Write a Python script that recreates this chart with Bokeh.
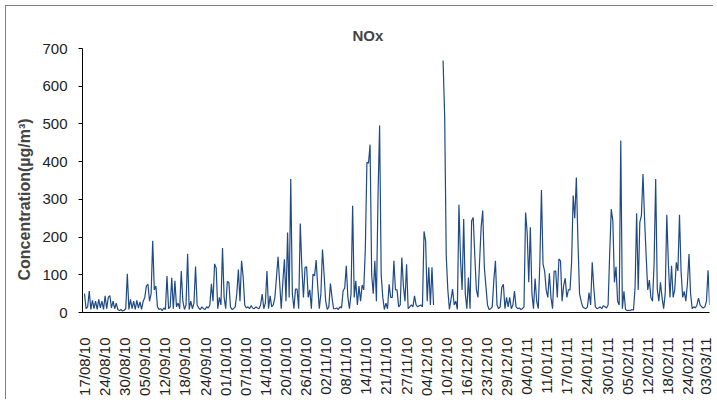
import math
from bokeh.plotting import figure
from bokeh.models import FixedTicker, Range1d, Title
from bokeh.embed import file_html
from bokeh.resources import INLINE

# Category labels shown on the x axis (every 152 hourly records)
date_labels = ["17/08/10", "24/08/10", "30/08/10", "05/09/10", "12/09/10", "18/09/10",
               "24/09/10", "01/10/10", "07/10/10", "14/10/10", "20/10/10", "26/10/10",
               "02/11/10", "08/11/10", "14/11/10", "21/11/10", "27/11/10", "04/12/10",
               "10/12/10", "16/12/10", "23/12/10", "29/12/10", "04/01/11", "11/01/11",
               "17/01/11", "24/01/11", "30/01/11", "05/02/11", "12/02/11", "18/02/11",
               "24/02/11", "03/03/11"]
label_every_hours = 152
sample_every_hours = 12

nan = float("nan")
# NOx concentration (ug/m3), every half day
nox = [
    50, 10, 15, 57, 8, 32, 10, 30, 8, 35, 12, 30, 8, 44, 10, 40, 45, 12, 30, 10,        # d0-9
    25, 8, 5, 8, 4, 6, 10, 103, 8, 35, 10, 30, 8, 32, 12, 28, 8, 30, 40, 70,            # d10-19
    75, 30, 50, 190, 60, 70, 15, 8, 10, 5, 12, 8, 97, 10, 15, 92, 10, 84, 15, 25,       # d20-29
    10, 110, 30, 8, 20, 156, 8, 30, 10, 25, 122, 20, 12, 8, 15, 10, 8, 15, 12, 20,      # d30-39
    76, 30, 129, 118, 10, 40, 20, 171, 40, 10, 82, 80, 15, 8, 10, 15, 50, 114, 30, 137, # d40-49
    95, 20, 12, 15, 10, 18, 12, 10, 15, 12, 10, 20, 49, 10, 25, 110, 10, 44, 15, 20,    # d50-59
    40, 93, 148, 80, 10, 80, 141, 30, 212, 40, 354, 50, 10, 62, 62, 10, 236, 120, 40, 120,  # d60-69
    121, 40, 60, 10, 102, 97, 139, 70, 10, 50, 167, 102, 30, 8, 15, 77, 40, 10, 10, 12,     # d70-79
    8, 15, 12, 57, 65, 124, 40, 10, 50, 283, 40, 84, 20, 70, 30, 73, 60, 168, 398, 396,     # d80-89
    445, 100, 50, 137, 30, 310, 496, 100, 40, 8, 25, 10, 75, 40, 40, 137, 60, 60, 15, 20,   # d90-99
    146, 70, 30, 128, 10, 15, 20, 15, 44, 20, 15, 18, 20, 15, 215, 190, 30, 120, 20, 120,   # d100-109
    20, nan, nan, nan, nan, nan, 668, 522, 150, 60, 8, 35, 62, 20, 30, 8, 286, 142, 60, 248,   # d110-119
    50, 10, 93, 10, 243, 252, 150, 60, 40, 133, 227, 270, 120, 70, 20, 8, 10, 15, 86, 137,     # d120-129
    20, 10, 15, 66, 75, 10, 40, 15, 40, 10, 20, 57, 15, 10, 12, 8, 10, 15, 265, 212,           # d130-139
    80, 226, 50, 10, 90, 30, 10, 133, 325, 128, 110, 60, 40, 104, 40, 10, 110, 110, 40, 142,   # d140-149
    137, 30, 71, 91, 40, 60, 60, 133, 310, 250, 358, 190, 50, 30, 15, 12, 10, 15, 53, 20,      # d150-159
    133, 66, 15, 10, 12, 15, 10, 18, 15, 12, 20, 155, 274, 243, 80, 121, 30, 20, 456, 10,      # d160-169
    56, 8, 5, 6, 5, 8, 6, 66, 263, 60, 239, 257, 367, 248, 150, 60, 86, 40, 30, 130,           # d170-179
    354, 62, 30, 80, 40, 10, 50, 259, 130, 40, 124, 40, 60, 133, 110, 259, 110, 40, 56, 30,    # d180-189
    77, 155, 50, 10, 15, 12, 20, 38, 20, 15, 12, 15, 30, 112, 20,                              # d190-197
]
y_ticks = [0, 100, 200, 300, 400, 500, 600, 700]

hours = [i * sample_every_hours for i in range(len(nox))]
tick_pos = [i * label_every_hours for i in range(len(date_labels))]

FONT = "Liberation Sans"

# figure origin sits at page (6, 6) because of the css margin + border
p = figure(width=708, height=394, output_backend="svg", toolbar_location=None,
           x_range=Range1d(-15, 4727), y_range=Range1d(0, 700),
           min_border_left=76, min_border_right=5, min_border_top=42, min_border_bottom=88)
p.styles = {"margin-left": "5px", "margin-top": "5px",
            "border-left": "1px solid #808080", "border-top": "1px solid #808080"}

p.line(hours, nox, line_color="#1F4A86", line_width=1.2)

p.title.text = "NOx"
p.title.text_font = FONT
p.title.text_font_size = "15px"
p.title.text_font_style = "bold"
p.title.align = "left"
p.title.offset = 270
p.title.standoff = 9

p.add_layout(Title(text="Concentration(µg/m³)", align="left", offset=32,
                   text_font=FONT, text_font_size="16px", text_font_style="bold",
                   standoff=14), "left")

p.grid.visible = False
p.outline_line_color = None

xa = p.xaxis[0]
xa.ticker = FixedTicker(ticks=tick_pos)
xa.major_label_overrides = {t: lab for t, lab in zip(tick_pos, date_labels)}
xa.major_label_orientation = math.pi / 2
xa.major_tick_out = 0
xa.major_tick_in = 0
xa.minor_tick_out = 0
xa.minor_tick_in = 0
xa.major_label_standoff = 25
xa.major_label_text_font = FONT
xa.major_label_text_font_size = "15px"
xa.major_label_text_color = "#222222"
xa.axis_line_color = "#000000"

ya = p.yaxis[0]
ya.ticker = FixedTicker(ticks=y_ticks)
ya.major_tick_out = 4
ya.major_tick_in = 0
ya.minor_tick_out = 0
ya.minor_tick_in = 0
ya.major_label_standoff = 11
ya.major_label_text_font = FONT
ya.major_label_text_font_size = "15px"
ya.major_label_text_color = "#222222"
ya.axis_line_color = "#000000"

open("out.html", "w").write(file_html(p, INLINE))
